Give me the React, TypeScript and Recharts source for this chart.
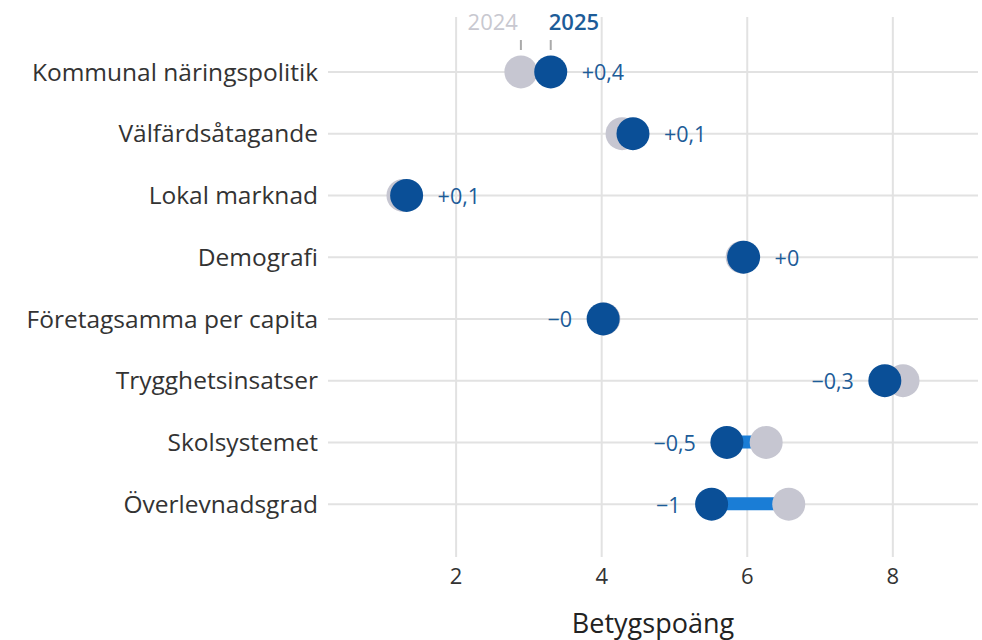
import { ComposedChart, Bar, Line, XAxis, YAxis, CartesianGrid, LabelList } from 'recharts'

const categories = [
  'Kommunal näringspolitik',
  'Välfärdsåtagande',
  'Lokal marknad',
  'Demografi',
  'Företagsamma per capita',
  'Trygghetsinsatser',
  'Skolsystemet',
  'Överlevnadsgrad',
]
const score2024 = [2.89, 4.28, 1.27, 5.93, 4.03, 8.14, 6.26, 6.57]
const score2025 = [3.3, 4.43, 1.32, 5.95, 4.02, 7.89, 5.72, 5.51]
const changeLabels = ['+0,4', '+0,1', '+0,1', '+0', '−0', '−0,3', '−0,5', '−1']
const xTicks = [2, 4, 6, 8]

const X_DOMAIN: [number, number] = [0.24, 9.17]
const PAD_TOP = 24
const PAD_BOTTOM = 22

const FONT = '"Open Sans", sans-serif'
const BLUE = '#0a4f97'
const GREY = '#c6c6d1'
const BAR = '#1a7dd6'
const LABEL_BLUE = '#1d5c98'

const data = categories.map((name, i) => ({
  name,
  y2024: score2024[i],
  y2025: score2025[i],
  range: [Math.min(score2024[i], score2025[i]), Math.max(score2024[i], score2025[i])],
  change: changeLabels[i],
}))

function Dot(color: string) {
  return (props: any) => {
    const { cx, cy, index } = props
    if (cx == null || cy == null) return <g key={index} />
    return <circle key={index} cx={cx} cy={cy} r={16.5} fill={color} stroke="none" />
  }
}

function ChangeLabel(props: any) {
  const { x, y, value, index } = props
  const d = data[index]
  const up = d.y2025 >= d.y2024
  return (
    <g>
      <text
        x={up ? x + 31 : x - 31}
        y={y}
        fill={LABEL_BLUE}
        fontSize={21.5}
        fontFamily={FONT}
        textAnchor={up ? 'start' : 'end'}
        dominantBaseline="central"
      >
        {value}
      </text>
      {index === 0 && (
        <g>
          <line x1={x} x2={x} y1={40} y2={50} stroke="#aaaaaa" strokeWidth={2} />
          <text x={x - 2} y={30} fill={LABEL_BLUE} fontSize={22} fontWeight={600} fontFamily={FONT} textAnchor="start">
            2025
          </text>
        </g>
      )}
    </g>
  )
}

function HeaderLabel(props: any) {
  const { x, index } = props
  if (index !== 0) return null
  return (
    <g>
      <line x1={x} x2={x} y1={40} y2={50} stroke="#aaaaaa" strokeWidth={2} />
      <text x={x - 3} y={30} fill="#c8c8d0" fontSize={22} fontFamily={FONT} textAnchor="end">
        2024
      </text>
    </g>
  )
}

// grid lines only at the value ticks and the row centres, no frame
const verticalLines = ({ offset }: any) =>
  xTicks.map((t) => offset.left + ((t - X_DOMAIN[0]) / (X_DOMAIN[1] - X_DOMAIN[0])) * offset.width)

const horizontalLines = ({ offset }: any) => {
  const band = (offset.height - PAD_TOP - PAD_BOTTOM) / categories.length
  return categories.map((_, i) => offset.top + PAD_TOP + band * (i + 0.5))
}

export default function App() {
  return (
    <div style={{ position: 'fixed', left: 0, top: 0, width: 982, height: 640, background: '#fff' }}>
      <ComposedChart
        width={982}
        height={640}
        data={data}
        layout="vertical"
        margin={{ top: 17, right: 4, bottom: 0, left: 0 }}
      >
        <CartesianGrid
          stroke="#e2e2e2"
          strokeWidth={2}
          verticalCoordinatesGenerator={verticalLines}
          horizontalCoordinatesGenerator={horizontalLines}
        />
        <XAxis
          type="number"
          domain={X_DOMAIN}
          ticks={xTicks}
          allowDataOverflow
          axisLine={false}
          tickLine={false}
          tickMargin={5}
          height={83}
          tick={{ fill: '#333', fontSize: 22, fontFamily: FONT }}
          label={{ value: 'Betygspoäng', position: 'insideBottom', offset: 7, fill: '#222', fontSize: 27, fontFamily: FONT }}
        />
        <YAxis
          type="category"
          dataKey="name"
          width={328}
          axisLine={false}
          tickLine={false}
          tickMargin={4}
          padding={{ top: PAD_TOP, bottom: PAD_BOTTOM }}
          tick={{ fill: '#333', fontSize: 24.5, fontFamily: FONT }}
        />
        <Bar dataKey="range" fill={BAR} barSize={13} isAnimationActive={false} />
        <Line dataKey="y2024" stroke="none" dot={Dot(GREY)} activeDot={false} isAnimationActive={false}>
          <LabelList dataKey="y2024" content={HeaderLabel} />
        </Line>
        <Line dataKey="y2025" stroke="none" dot={Dot(BLUE)} activeDot={false} isAnimationActive={false}>
          <LabelList dataKey="change" content={ChangeLabel} />
        </Line>
      </ComposedChart>
    </div>
  )
}
